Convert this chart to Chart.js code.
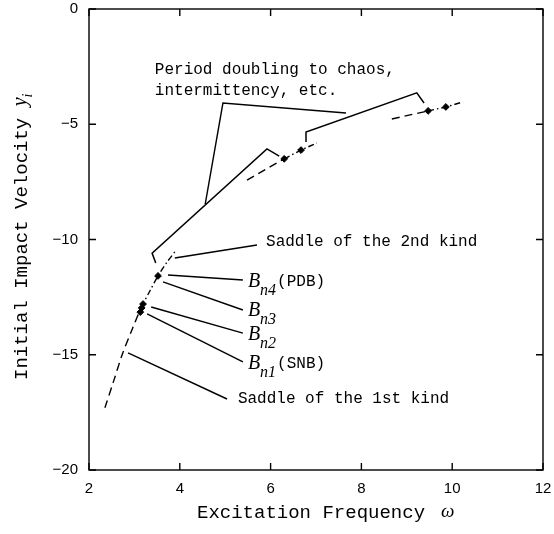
<!DOCTYPE html>
<html>
<head>
<meta charset="utf-8">
<script src="https://cdn.jsdelivr.net/npm/chart.js@4/dist/chart.umd.min.js"></script>
<style>
html,body{margin:0;padding:0;background:#fff;}
canvas{display:block;}
</style>
</head>
<body>
<canvas id="c" width="554" height="534"></canvas>
<script>
// ---- data ----
const xTicks = [2, 4, 6, 8, 10, 12];
const yTicks = [0, -5, -10, -15, -20];

// main periodic branch (saddle of the 1st kind → B_n1 → saddle of the 2nd kind)
const lowBranchDashed  = [[2.35,-17.3],[2.55,-16.1],[2.73,-15.0],[2.95,-13.9],[3.15,-12.93]];
const lowBranchDashDot = [[3.15,-12.93],[3.35,-12.2],[3.52,-11.58],[3.72,-10.98],[3.92,-10.46]];
const midBranchDashed  = [[5.48,-7.42],[6.30,-6.50]];
const midBranchDashDot = [[6.30,-6.50],[6.67,-6.12],[7.02,-5.81]];
const highBranchDashed = [[8.67,-4.77],[9.47,-4.42]];
const highBranchDashDot= [[9.47,-4.42],[9.86,-4.25],[10.24,-4.03]];

// bifurcation points (filled markers)
const bifPoints = [[3.13,-13.15],[3.16,-12.97],[3.19,-12.80],[3.52,-11.58],[6.30,-6.50],[6.67,-6.12],[9.47,-4.42],[9.86,-4.25]];

// boundaries of the period-doubling / chaotic regions
const chaosEdge1 = [[3.47,-11.02],[3.39,-10.59],[5.92,-6.07],[6.19,-6.38]];
const chaosEdge2 = [[6.78,-5.77],[6.78,-5.34],[9.22,-3.64],[9.38,-4.08]];

// leader lines for annotations
const leaderPeriod  = [[7.66,-4.51],[4.95,-4.08],[4.56,-8.47]];
const leaderSaddle2 = [[3.89,-10.80],[5.70,-10.24]];
const leaderBn4     = [[3.74,-11.54],[5.39,-11.76]];
const leaderBn3     = [[3.63,-11.84],[5.39,-13.06]];
const leaderBn2     = [[3.37,-12.93],[5.39,-14.06]];
const leaderBn1     = [[3.28,-13.23],[5.39,-15.31]];
const leaderSaddle1 = [[2.86,-14.92],[5.04,-16.92]];

// annotation texts and anchor (left, middle) in data coordinates
const plainLabels = [
  {text:'Period doubling to chaos,', x:3.45, y:-2.65},
  {text:'intermittency, etc.',       x:3.45, y:-3.56},
  {text:'Saddle of the 2nd kind',    x:5.90, y:-10.11},
  {text:'Saddle of the 1st kind',    x:5.28, y:-16.92}
];
const bLabels = [
  {sub:'n4', suffix:'(PDB)', x:5.50, y:-11.82},
  {sub:'n3', suffix:'',      x:5.50, y:-13.08},
  {sub:'n2', suffix:'',      x:5.50, y:-14.12},
  {sub:'n1', suffix:'(SNB)', x:5.50, y:-15.38}
];
const xTitle = 'Excitation Frequency';
const xTitleSym = 'ω';
const yTitle = 'Initial Impact Velocity ';
const yTitleSym = 'y';
const yTitleSub = 'i';

// ---- helpers ----
const pts = a => a.map(p => ({x:p[0], y:p[1]}));
const MONO = '"Liberation Mono", "DejaVu Sans Mono", monospace';
const SERIF = '"Liberation Serif", "DejaVu Serif", serif';

function lineDs(arr, dash, width, tension){
  return {type:'line', data:pts(arr), borderColor:'#000', backgroundColor:'#000',
          borderWidth:width||1.3, borderDash:dash||[], pointRadius:0, showLine:true,
          fill:false, tension:tension||0};
}

const datasets = [
  lineDs(lowBranchDashed, [8,5], 1.4, 0.3),
  lineDs(lowBranchDashDot, [6,3,1.5,3], 1.4, 0.3),
  lineDs(midBranchDashed, [8,5], 1.4),
  lineDs(midBranchDashDot, [6,3,1.5,3], 1.4),
  lineDs(highBranchDashed, [8,5], 1.4),
  lineDs(highBranchDashDot, [6,3,1.5,3], 1.4),
  lineDs(chaosEdge1, [], 1.5),
  lineDs(chaosEdge2, [], 1.5),
  lineDs(leaderPeriod, [], 1.4),
  lineDs(leaderSaddle2, [], 1.4),
  lineDs(leaderBn4, [], 1.4),
  lineDs(leaderBn3, [], 1.4),
  lineDs(leaderBn2, [], 1.4),
  lineDs(leaderBn1, [], 1.4),
  lineDs(leaderSaddle1, [], 1.4),
  {type:'scatter', data:pts(bifPoints), pointStyle:'rectRot', pointRadius:3.4,
   backgroundColor:'#000', borderColor:'#000', borderWidth:1, showLine:false}
];

const framePlugin = {
  id:'frame',
  afterDatasetsDraw(chart){
    const {ctx, chartArea:a, scales:{x, y}} = chart;
    ctx.save();
    ctx.strokeStyle = '#000';
    ctx.lineWidth = 1.4;
    ctx.strokeRect(a.left, a.top, a.right - a.left, a.bottom - a.top);
    const L = 7;
    ctx.beginPath();
    xTicks.forEach(v => {
      const px = x.getPixelForValue(v);
      ctx.moveTo(px, a.bottom); ctx.lineTo(px, a.bottom - L);
      ctx.moveTo(px, a.top); ctx.lineTo(px, a.top + L);
    });
    yTicks.forEach(v => {
      const py = y.getPixelForValue(v);
      ctx.moveTo(a.left, py); ctx.lineTo(a.left + L, py);
      ctx.moveTo(a.right, py); ctx.lineTo(a.right - L, py);
    });
    ctx.stroke();

    // annotation texts
    ctx.fillStyle = '#000';
    ctx.textBaseline = 'middle';
    ctx.textAlign = 'left';
    ctx.font = '16px ' + MONO;
    plainLabels.forEach(l => {
      ctx.fillText(l.text, x.getPixelForValue(l.x), y.getPixelForValue(l.y));
    });
    bLabels.forEach(l => {
      let px = x.getPixelForValue(l.x);
      const py = y.getPixelForValue(l.y);
      ctx.font = 'italic 20px ' + SERIF;
      ctx.fillText('B', px, py);
      px += ctx.measureText('B').width;
      ctx.font = 'italic 16px ' + SERIF;
      ctx.fillText(l.sub, px, py + 9);
      px += ctx.measureText(l.sub).width + 1;
      if (l.suffix){
        ctx.font = '16px ' + MONO;
        ctx.fillText(l.suffix, px, py);
      }
    });

    // x axis title
    ctx.font = '19px ' + MONO;
    ctx.fillText(xTitle, 197, 513);
    ctx.font = 'italic 19px ' + SERIF;
    ctx.fillText(xTitleSym, 441, 512);

    // y axis title (rotated)
    ctx.translate(22, 380);
    ctx.rotate(-Math.PI/2);
    ctx.font = '19px ' + MONO;
    ctx.fillText(yTitle, 0, 0);
    let w = ctx.measureText(yTitle).width;
    ctx.font = 'italic 20px ' + SERIF;
    ctx.fillText(yTitleSym, w, -1);
    w += ctx.measureText(yTitleSym).width;
    ctx.font = 'italic 14px ' + SERIF;
    ctx.fillText(yTitleSub, w, 6);
    ctx.restore();
  }
};

const tickFont = {family:'"Liberation Sans", Arial, sans-serif', size:15};
const fmt = v => (v < 0 ? '\u2212' + Math.abs(v) : String(v));

new Chart(document.getElementById('c'), {
  type:'scatter',
  data:{datasets},
  options:{
    responsive:false,
    animation:false,
    devicePixelRatio:1,
    layout:{autoPadding:false, padding:{left:0, right:11, top:9, bottom:0}},
    plugins:{legend:{display:false}, tooltip:{enabled:false}},
    scales:{
      x:{type:'linear', min:2, max:12,
         afterBuildTicks: s => { s.ticks = xTicks.map(v => ({value:v})); },
         afterFit: s => { s.height = 64; s.paddingLeft = 0; s.paddingRight = 0; },
         grid:{display:false, drawTicks:false}, border:{display:false},
         ticks:{font:tickFont, color:'#000', padding:10, maxRotation:0, callback:fmt}},
      y:{type:'linear', min:-20, max:0,
         afterBuildTicks: s => { s.ticks = yTicks.map(v => ({value:v})); },
         afterFit: s => { s.width = 89; s.paddingTop = 0; s.paddingBottom = 0; },
         grid:{display:false, drawTicks:false}, border:{display:false},
         ticks:{font:tickFont, color:'#000', padding:11, callback:fmt}}
    }
  },
  plugins:[framePlugin]
});
</script>
</body>
</html>
